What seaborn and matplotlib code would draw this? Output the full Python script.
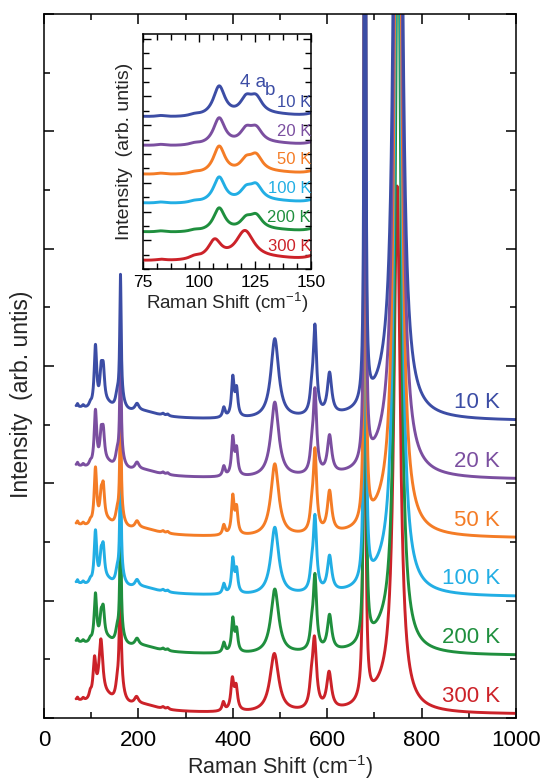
import numpy as np
import pandas as pd
import matplotlib
matplotlib.use("Agg")
import matplotlib.pyplot as plt
from matplotlib.ticker import MultipleLocator, NullFormatter
import seaborn as sns

# ---------------- data ----------------
temps = ["10 K", "20 K", "50 K", "100 K", "200 K", "300 K"]
colors = ["#3c4da5", "#7b4fa0", "#f47c26", "#22aee4", "#1f8f3e", "#cc2229"]
offsets = [5, 4, 3, 2, 1, 0]
floor = [0.06, 0.06, 0.06, 0.06, 0.06, 0.06]

# Raman modes: centre (cm^-1), half width (cm^-1) and amplitude per temperature
pos_low = [0, 71, 83, 98, 109, 121, 125.5, 135, 155, 162, 165, 197, 210, 252, 262,
           381, 400, 408, 489, 567, 574, 605, 680, 720, 750]
pos_300 = [0, 71, 83, 98, 107, 120.5, 125.5, 135, 155, 161.5, 165, 196, 210, 252, 262,
           380, 399, 407, 488, 566, 573, 604, 679, 720, 748]
hw_low = [90, 1.5, 2.5, 3, 3.2, 3.2, 3.4, 15, 4, 1.8, 8, 5, 40, 3, 3,
          3.2, 3.3, 3.3, 10, 4, 4.3, 5.5, 1.4, 40, 6.5]
hw_300 = [90, 1.5, 2.5, 3, 3.6, 5, 3.4, 15, 4, 2.6, 8, 5, 40, 3, 3,
          3.2, 3.8, 3.8, 11, 4, 5.2, 6, 1.7, 40, 8]

amp_10K = [0.35, .05, .04, .06, 1.05, .52, .56, .12, .20, 2.15, .15, .12, .10, .03, .03,
           .17, .66, .45, 1.36, .28, 1.48, .70, 20, .28, 25]
amp_20K = [0.35, .05, .04, .06, 0.95, .46, .50, .12, .20, 2.00, .15, .12, .10, .03, .03,
           .17, .64, .43, 1.28, .28, 1.40, .64, 20, .28, 23]
amp_50K = [0.35, .05, .04, .06, 0.97, .40, .56, .12, .20, 2.00, .15, .12, .10, .03, .03,
           .17, .64, .43, 1.23, .28, 1.38, .70, 20, .28, 20]
amp_100K = [0.35, .05, .04, .06, 0.90, .39, .53, .12, .20, 2.00, .15, .12, .10, .03, .03,
            .17, .58, .38, 1.15, .28, 1.25, .60, 20, .28, 18]
amp_200K = [0.35, .05, .04, .06, 0.83, .36, .48, .12, .20, 2.00, .15, .12, .10, .03, .03,
            .17, .56, .36, 1.10, .28, 1.25, .60, 20, .28, 14]
amp_300K = [0.35, .04, .04, .10, 0.67, 1.02, 0.0, .12, .20, 1.80, .15, .12, .10, .03, .03,
            .15, .52, .38, 1.00, .28, 1.18, .62, 16, .28, 8.8]

amps = [amp_10K, amp_20K, amp_50K, amp_100K, amp_200K, amp_300K]
positions = [pos_low] * 5 + [pos_300]
widths = [hw_low] * 5 + [hw_300]

shift = np.arange(68.0, 1000.01, 0.2)

frames = []
for t, off, fl, a, p, w in zip(temps, offsets, floor, amps, positions, widths):
    a = np.asarray(a)[:, None]
    p = np.asarray(p)[:, None]
    w = np.asarray(w)[:, None]
    y = off + fl + (a * w ** 2 / ((shift[None, :] - p) ** 2 + w ** 2)).sum(axis=0)
    frames.append(pd.DataFrame({"shift": shift, "intensity": y, "T": t}))
df = pd.concat(frames, ignore_index=True)

draw_order = temps[::-1]          # 300 K first, 10 K on top
palette = dict(zip(temps, colors))

# ---------------- figure ----------------
sns.set_theme(style="ticks")
plt.rcParams["font.family"] = ["Liberation Sans", "DejaVu Sans"]
plt.rcParams["mathtext.default"] = "regular"
plt.rcParams["axes.linewidth"] = 1.1

fig = plt.figure(figsize=(5.44, 7.81), dpi=100)
ax = fig.add_axes([44 / 544, 63 / 781, 472 / 544, 704 / 781])

sns.lineplot(data=df, x="shift", y="intensity", hue="T", hue_order=draw_order,
             palette=palette, estimator=None, sort=False, linewidth=2.1,
             legend=False, ax=ax)

ax.set_xlim(0, 1000)
ax.set_ylim(0, 12)
ax.set_xticks(np.arange(0, 1001, 200))
ax.xaxis.set_minor_locator(MultipleLocator(100))
ax.set_yticks(np.arange(0, 13, 2))
ax.yaxis.set_minor_locator(MultipleLocator(1))
ax.yaxis.set_major_formatter(NullFormatter())
ax.tick_params(which="both", direction="in", top=True, right=True, width=1.1,
               colors="black", labelsize=16)
ax.tick_params(which="major", length=7)
ax.tick_params(which="minor", length=4.5)
ax.tick_params(axis="x", pad=9)
ax.set_xlabel("Raman Shift (cm$^{-1}$)", fontsize=15.5, va="center")
ax.xaxis.set_label_coords(0.5, -0.0695)
ax.set_ylabel("Intensity  (arb. untis)", fontsize=16.5)
ax.yaxis.set_label_coords(-0.024, 0.46)
for s in ax.spines.values():
    s.set_color("black")

for t, off, c in zip(temps, offsets, colors):
    ax.text(966, off + 0.37, t, color=c, ha="right", va="center", fontsize=16)

# ---------------- inset ----------------
ins = fig.add_axes([143 / 544, (781 - 269.3) / 781, 168 / 544, 235.3 / 781])
sub = df[(df["shift"] >= 70) & (df["shift"] <= 155)]
sns.lineplot(data=sub, x="shift", y="intensity", hue="T", hue_order=draw_order,
             palette=palette, estimator=None, sort=False, linewidth=2.1,
             legend=False, ax=ins)
ins.set_xlim(75, 150)
ins.set_ylim(0, 8.17)
ins.set_xticks([75, 100, 125, 150])
ins.xaxis.set_minor_locator(MultipleLocator(6.25))
ins.set_yticks(np.arange(1, 8.1, 1))
ins.yaxis.set_minor_locator(MultipleLocator(0.5))
ins.yaxis.set_major_formatter(NullFormatter())
ins.tick_params(which="both", direction="in", top=True, right=True, width=1.0,
                colors="black", labelsize=12.5, pad=4)
ins.tick_params(which="major", length=5.5)
ins.tick_params(which="minor", length=4)
ins.set_xlabel("Raman Shift (cm$^{-1}$)", fontsize=13.5, labelpad=1)
ins.set_ylabel("Intensity  (arb. untis)", fontsize=14, labelpad=3)
for s in ins.spines.values():
    s.set_color("black")

for t, off, c in zip(temps, offsets, colors):
    ins.text(150, off + 0.8, t, color=c, ha="right", va="center", fontsize=12)
ins.text(118.3, 6.33, "4 a", color=colors[0], ha="left", va="baseline",
         fontsize=13.5)
ins.text(129.3, 6.05, "b", color=colors[0], ha="left", va="baseline",
         fontsize=13.5)

fig.savefig("out.png", dpi=100)
